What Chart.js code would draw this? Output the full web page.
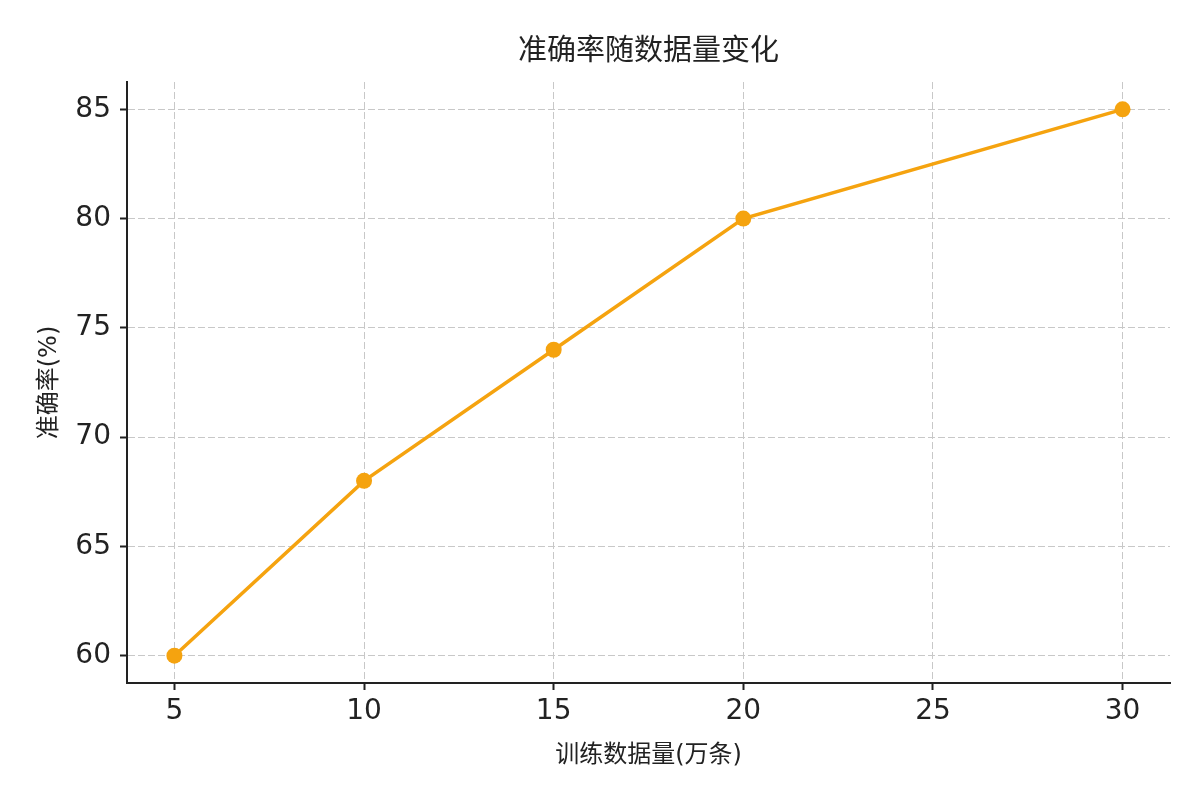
<!DOCTYPE html>
<html>
<head>
<meta charset="utf-8">
<script src="https://cdn.jsdelivr.net/npm/chart.js@4.4.1/dist/chart.umd.min.js"></script>
<style>
  html, body { margin: 0; padding: 0; background: #fff; }
  #wrap { width: 1200px; height: 800px; }
</style>
</head>
<body>
<div id="wrap"><canvas id="lineChart" width="1200" height="800"></canvas></div>
<script>
// data
const xValues = [5, 10, 15, 20, 30];
const yValues = [60, 68, 74, 80, 85];
const xTicks = [5, 10, 15, 20, 25, 30];
const yTicks = [60, 65, 70, 75, 80, 85];

const chartTitle = '准确率随数据量变化';
const xLabel = '训练数据量(万条)';
const yLabel = '准确率(%)';

const fontFamily = '"DejaVu Sans", "Noto Sans CJK SC", sans-serif';
const lineColor = '#f5a30f';
const inkColor = '#222222';

const points = xValues.map((x, i) => ({ x: x, y: yValues[i] }));

const ctx = document.getElementById('lineChart').getContext('2d');

new Chart(ctx, {
  type: 'line',
  data: {
    datasets: [{
      data: points,
      borderColor: lineColor,
      backgroundColor: lineColor,
      borderWidth: 3.5,
      pointRadius: 8,
      pointHoverRadius: 8,
      pointBorderWidth: 0,
      tension: 0,
      fill: false
    }]
  },
  options: {
    responsive: false,
    animation: false,
    layout: { padding: { top: 0, right: 30, bottom: 0, left: 0 } },
    plugins: {
      legend: { display: false },
      tooltip: { enabled: false },
      title: {
        display: true,
        text: chartTitle,
        fullSize: false,
        color: inkColor,
        font: { family: fontFamily, size: 29, weight: 'normal', lineHeight: 1.2 },
        padding: { top: 35, bottom: 12.2 }
      }
    },
    scales: {
      x: {
        type: 'linear',
        min: 3.75,
        max: 31.25,
        afterBuildTicks: (axis) => { axis.ticks = xTicks.map(v => ({ value: v })); },
        afterFit: (axis) => { axis.height = 117; },
        ticks: {
          color: inkColor,
          padding: 5,
          font: { family: fontFamily, size: 28 }
        },
        grid: {
          color: '#c8c8c8',
          lineWidth: 1,
          tickColor: inkColor,
          tickLength: 7,
          tickWidth: 2
        },
        border: { display: true, color: inkColor, width: 2, dash: [7, 3] },
        title: {
          display: true,
          text: xLabel,
          color: inkColor,
          font: { family: fontFamily, size: 24, lineHeight: 1.2 },
          padding: { top: 0, bottom: 30 }
        }
      },
      y: {
        type: 'linear',
        min: 58.75,
        max: 86.25,
        afterBuildTicks: (axis) => { axis.ticks = yTicks.map(v => ({ value: v })); },
        afterFit: (axis) => { axis.width = 127; },
        ticks: {
          color: inkColor,
          padding: 9,
          font: { family: fontFamily, size: 28 }
        },
        grid: {
          color: '#c8c8c8',
          lineWidth: 1,
          tickColor: inkColor,
          tickLength: 7,
          tickWidth: 2
        },
        border: { display: true, color: inkColor, width: 2, dash: [7, 3] },
        title: {
          display: true,
          text: yLabel,
          color: inkColor,
          font: { family: fontFamily, size: 24, lineHeight: 1.2 },
          padding: { top: 35, bottom: 0 }
        }
      }
    }
  }
});
</script>
</body>
</html>
